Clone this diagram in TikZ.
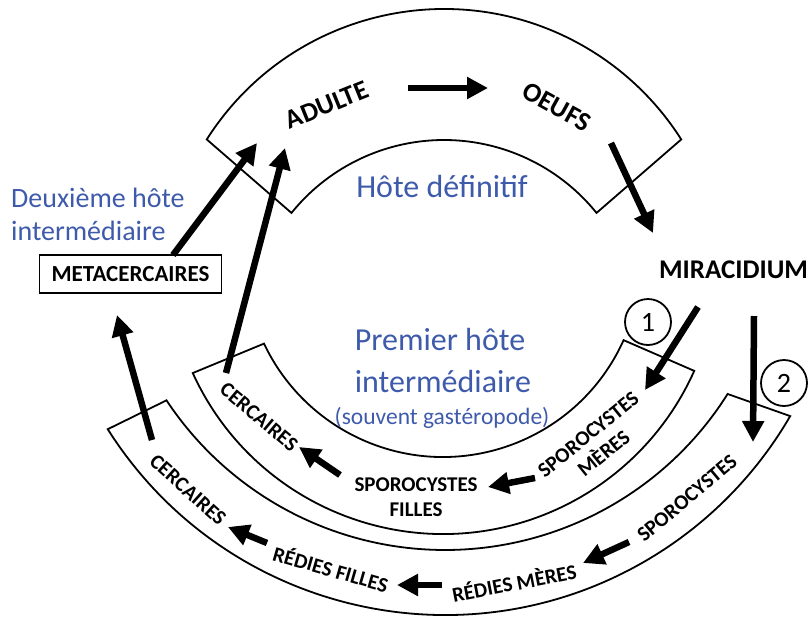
\documentclass[tikz,border=0pt]{standalone}
\usepackage{fontspec}
\setmainfont{Carlito}
\usetikzlibrary{arrows.meta,positioning,calc}
\definecolor{hostblue}{RGB}{62,90,170}
\tikzset{
	band/.style={draw=black, line width=1.8pt, fill=white},
	stage/.style={font=\bfseries\fontsize{21}{24.5}\selectfont, align=center, inner sep=0},
	bigstage/.style={font=\bfseries\fontsize{27}{32}\selectfont, inner sep=0},
	host/.style={text=hostblue, inner sep=0},
	cycarrow/.style={-{Triangle[width=21pt,length=21pt]}, line width=6.5pt},
	routenum/.style={circle, draw, line width=1.8pt, minimum size=46pt, inner sep=0, font=\fontsize{28}{30}\selectfont}
}

\begin{document}
\begin{tikzpicture}[x=1pt,y=-1pt]
		\useasboundingbox (0,0) rectangle (812,619);
		%%% bands of the three hosts
		\coordinate (defC) at (444,290);
		\coordinate (defc) at (444,336);
		\coordinate (unC) at (443,259);
		\coordinate (deuxC) at (445,216);
		
		\draw[band] ($(defC)+(212.4:281)$) arc[start angle=212.4,end angle=327.6,radius=281]
		-- ($(defc)+(321.1:196)$) arc[start angle=321.1,end angle=218.9,radius=196] -- cycle;
		\draw[band] ($(unC)+(155.5:275)$) arc[start angle=155.5,end angle=24,radius=275]
		-- ($(unC)+(24.2:198)$) arc[start angle=24.2,end angle=154.7,radius=198] -- cycle;
		\draw[band] ($(deuxC)+(147.7:399)$) arc[start angle=147.7,end angle=30.1,radius=399]
		-- ($(deuxC)+(32.2:334)$) arc[start angle=32.2,end angle=146.5,radius=334] -- cycle;
		
		%%% stages
		\node[bigstage, rotate=22] (adulte) at (327,105) {ADULTE};
		\node[bigstage, rotate=-29] (oeufs) at (557,107) {OEUFS};
		\node[bigstage] (mira) at (733.5,270) {MIRACIDIUM};
		\node[draw, line width=1.8pt, fill=white, minimum width=182pt, minimum height=38pt,
		font=\bfseries\fontsize{23}{26}\selectfont] (meta) at (130.5,274) {METACERCAIRES};
		
		\node[stage, rotate=39] (spmer) at (596,444) {SPOROCYSTES\\MÈRES};
		\node[stage] (spfil) at (416,497) {SPOROCYSTES\\FILLES};
		\node[stage, rotate=-40] (cercA) at (259,417) {CERCAIRES};
		\node[stage, rotate=40] (spor) at (687,498) {SPOROCYSTES};
		\node[stage, rotate=11] (rmer) at (514,582) {RÉDIES MÈRES};
		\node[stage, rotate=-16] (rfil) at (331,568) {RÉDIES FILLES};
		\node[stage, rotate=-42] (cercB) at (188,490) {CERCAIRES};
		
		\node[routenum] (r1) at (648,322) {1};
		\node[routenum] (r2) at (784,383) {2};
		
		%%% hosts
		\node[host, anchor=base, font=\fontsize{32}{38}\selectfont] (hdef) at (442,197) {Hôte définitif};
		\node[host, anchor=base west, font=\fontsize{28}{33}\selectfont] (deux1) at (11,207) {Deuxième hôte};
		\node[host, anchor=base west, font=\fontsize{28}{33}\selectfont] (deux2) at (11,240) {intermédiaire};
		\node[host, anchor=base, font=\fontsize{32}{38}\selectfont] (prem1) at (440,350) {Premier hôte};
		\node[host, anchor=base, font=\fontsize{32}{38}\selectfont] (prem2) at (443,392) {intermédiaire};
		\node[host, anchor=base, font=\fontsize{23.5}{28}\selectfont] (sous) at (442,424) {(souvent gastéropode)};
		
		%%% arrow ends
		\coordinate (adOut) at (408,88);
		\coordinate (oeIn) at (488,88);
		\coordinate (oeOut) at (611,143);
		\coordinate (miIn) at (653,233);
		\coordinate (miOutA) at (698,307);
		\coordinate (smIn) at (645,390);
		\coordinate (miOutB) at (754,316);
		\coordinate (spIn) at (753,442);
		\coordinate (smOut) at (535,478);
		\coordinate (sfIn) at (488,487);
		\coordinate (sfOut) at (340,475);
		\coordinate (caIn) at (299,447);
		\coordinate (caOut) at (226,373);
		\coordinate (adInA) at (285,148);
		\coordinate (meOut) at (173,255);
		\coordinate (adInB) at (257,143);
		\coordinate (cbOut) at (152,440);
		\coordinate (meIn) at (117,315);
		\coordinate (spOut) at (629,542);
		\coordinate (rmIn) at (583,563);
		\coordinate (rmOut) at (442,585);
		\coordinate (rfIn) at (397,585);
		\coordinate (rfOut) at (267,543);
		\coordinate (cbIn) at (228,527);
		
		\draw[cycarrow] (adOut) -- (oeIn);
		\draw[cycarrow] (oeOut) -- (miIn);
		\draw[cycarrow] (miOutA) -- (smIn);
		\draw[cycarrow] (miOutB) -- (spIn);
		\draw[cycarrow] (smOut) -- (sfIn);
		\draw[cycarrow] (sfOut) -- (caIn);
		\draw[cycarrow] (caOut) -- (adInA);
		\draw[cycarrow] (meOut) -- (adInB);
		\draw[cycarrow] (cbOut) -- (meIn);
		\draw[cycarrow] (spOut) -- (rmIn);
		\draw[cycarrow] (rmOut) -- (rfIn);
		\draw[cycarrow] (rfOut) -- (cbIn);
	\end{tikzpicture}
\end{document}
